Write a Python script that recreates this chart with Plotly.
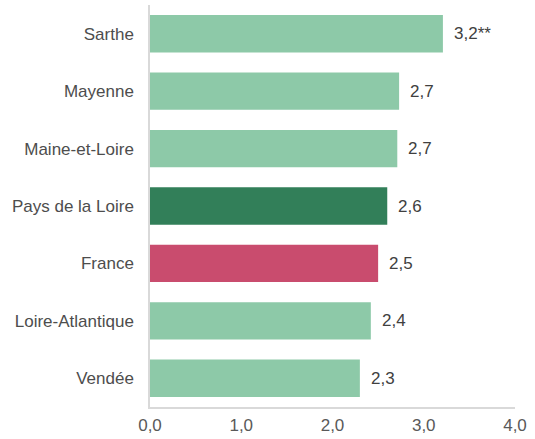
import plotly.graph_objects as go

categories = ["Sarthe", "Mayenne", "Maine-et-Loire", "Pays de la Loire",
              "France", "Loire-Atlantique", "Vendée"]
values = [3.21, 2.73, 2.71, 2.60, 2.50, 2.42, 2.30]
value_labels = ["3,2**", "2,7", "2,7", "2,6", "2,5", "2,4", "2,3"]
bar_colors = ["#8DC9A8", "#8DC9A8", "#8DC9A8", "#327F59",
              "#C94C6E", "#8DC9A8", "#8DC9A8"]
x_ticks = [0, 1, 2, 3, 4]
x_tick_labels = ["0,0", "1,0", "2,0", "3,0", "4,0"]

FONT = "Liberation Sans, Arial, sans-serif"

fig = go.Figure()
fig.add_trace(go.Bar(
    x=values, y=categories, orientation="h",
    marker=dict(color=bar_colors, line=dict(width=0)),
    hoverinfo="skip",
))

for v, c, lab in zip(values, categories, value_labels):
    fig.add_annotation(x=v, y=c, text=lab, showarrow=False,
                       xanchor="left", xshift=9,
                       font=dict(family=FONT, size=17, color="#404040"))

fig.update_layout(
    width=535, height=439,
    margin=dict(l=150, r=20, t=5, b=32, autoexpand=False),
    plot_bgcolor="white", paper_bgcolor="white",
    bargap=0.35,
    showlegend=False,
    font=dict(family=FONT, size=17, color="#404040"),
)
fig.update_xaxes(
    range=[0, 4], tickvals=x_ticks, ticktext=x_tick_labels,
    showgrid=False, zeroline=False, automargin=False,
    showline=True, linecolor="#D9D9D9", linewidth=1.5,
    ticks="", ticklabelstandoff=2,
    tickfont=dict(family=FONT, size=17, color="#595959"),
)
fig.update_yaxes(
    categoryorder="array", categoryarray=categories[::-1],
    showgrid=False, zeroline=False, automargin=False,
    showline=True, linecolor="#D9D9D9", linewidth=1.5,
    ticks="", ticklabelstandoff=11,
    tickfont=dict(family=FONT, size=17, color="#4D4D4D"),
)

fig.write_html("out.html",
               config={"displayModeBar": False},
               post_script="document.body.style.margin='0';document.body.style.overflow='hidden';")
